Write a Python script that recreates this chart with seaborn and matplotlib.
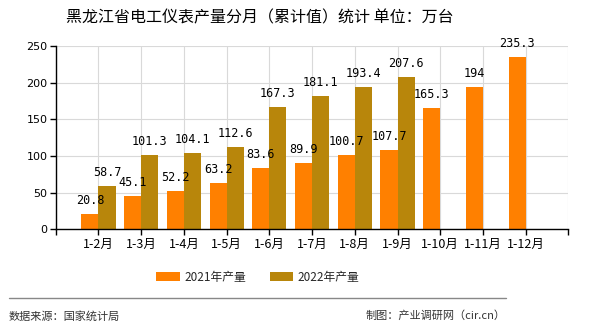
import matplotlib
matplotlib.use("Agg")
import matplotlib.pyplot as plt
import seaborn as sns
import pandas as pd
import numpy as np
from matplotlib.lines import Line2D
from matplotlib.patches import Patch

categories = ["1-2月", "1-3月", "1-4月", "1-5月", "1-6月", "1-7月", "1-8月",
              "1-9月", "1-10月", "1-11月", "1-12月"]
values_2021 = [20.8, 45.1, 52.2, 63.2, 83.6, 89.9, 100.7, 107.7, 165.3, 194, 235.3]
values_2022 = [58.7, 101.3, 104.1, 112.6, 167.3, 181.1, 193.4, 207.6, None, None, None]
series_names = ["2021年产量", "2022年产量"]
y_ticks = [0, 50, 100, 150, 200, 250]

colors = {"2021年产量": "#FF8000", "2022年产量": "#B8860B"}

rows = []
for c, v1, v2 in zip(categories, values_2021, values_2022):
    rows.append({"cat": c, "series": series_names[0], "value": v1})
    if v2 is not None:
        rows.append({"cat": c, "series": series_names[1], "value": v2})
df = pd.DataFrame(rows)

sns.set_theme(style="white")
plt.rcParams['font.family'] = ['Noto Sans CJK SC', 'DejaVu Sans']

fig = plt.figure(figsize=(5.9, 3.3), dpi=100)
ax = fig.add_axes([0.0944, 0.305, 0.869, 0.556])

order = [" "] + categories
sns.barplot(data=df, x="cat", y="value", hue="series", order=order,
            hue_order=series_names, palette=colors, width=0.8, dodge=True,
            ax=ax, legend=False, saturation=1, errorbar=None, linewidth=0,
            edgecolor="none")

for cont in ax.containers:
    labels = []
    for b in cont:
        h = b.get_height()
        labels.append("" if np.isnan(h) else f"{h:g}")
    ax.bar_label(cont, labels=labels, padding=5, fontsize=8.5,
                 family=['DejaVu Sans Mono'], color="black")

ax.set_xlim(0, 12)
ax.set_ylim(0, 250)
ax.set_xticks(range(13))
ax.set_xticklabels([""] + categories + [""], fontsize=9, color="black")
ax.set_yticks(y_ticks)
ax.set_yticklabels([str(t) for t in y_ticks], fontsize=8, family=['DejaVu Sans'],
                   color="black")
ax.set_xlabel("")
ax.set_ylabel("")
ax.grid(True, color="#d9d9d9", linewidth=0.8)
ax.set_axisbelow(True)
for s in ["top", "right"]:
    ax.spines[s].set_visible(False)
for s in ["left", "bottom"]:
    ax.spines[s].set_color("black")
    ax.spines[s].set_linewidth(1)
ax.tick_params(axis="both", which="both", direction="out", length=4, width=1,
               color="black", bottom=True, left=True, pad=2)

fig.text(0.44, 0.945, "黑龙江省电工仪表产量分月（累计值）统计 单位：万台",
         ha="center", va="center", fontsize=11.5, color="black")

handles = [Patch(facecolor=colors[n], edgecolor="none") for n in series_names]
fig.legend(handles, series_names, loc="center", bbox_to_anchor=(0.437, 0.16),
           ncol=2, frameon=False, fontsize=8.5, handlelength=2.0, handleheight=0.8,
           columnspacing=2.0, handletextpad=0.4)

fig.add_artist(Line2D([9 / 590, 506 / 590], [1 - 298 / 330, 1 - 298 / 330],
                      color="#888888", linewidth=1))
fig.text(9 / 590, 1 - 316 / 330, "数据来源：国家统计局", ha="left", va="center",
         fontsize=8, color="#333333")
fig.text(506 / 590, 1 - 316 / 330, "制图：产业调研网（cir.cn）", ha="right",
         va="center", fontsize=8, color="#333333")

fig.savefig("out.png", dpi=100)
